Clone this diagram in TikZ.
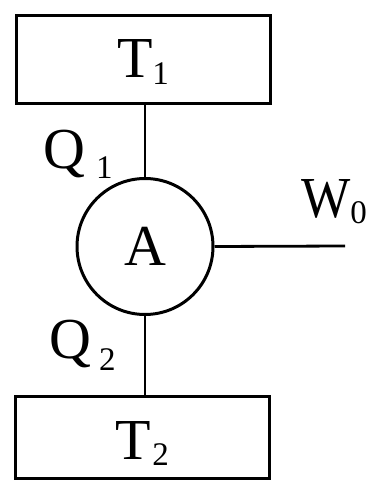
\documentclass[tikz,border=0pt]{standalone}
\usepackage{fontspec}
\setmainfont{Liberation Serif}
\usepackage{tikz}
\usetikzlibrary{positioning}
\newcommand{\bigfont}{\fontsize{58}{60}\selectfont}
\newcommand{\subfont}{\fontsize{33}{34}\selectfont}
\newcommand{\lowsub}[2][8pt]{\raisebox{-#1}{\subfont #2}}
\tikzset{
    reservoir/.style={rectangle, draw, line width=3pt, minimum width=254pt, minimum height=88pt, inner sep=0pt, font=\bigfont, text height=36pt, text depth=0pt},
    engine/.style={circle, draw, line width=3pt, minimum size=136pt, inner sep=0pt, font=\bigfont},
    link/.style={line width=2.8pt},
    lbl/.style={inner sep=0pt, font=\bigfont}
}
\begin{document}
\begin{tikzpicture}[x=1pt, y=-1pt]
\useasboundingbox (0,0) rectangle (366,481);

% Engine
\node[engine] (eng) at (145,246.5) {A};

% Hot and cold reservoirs
\node[reservoir, above=72pt of eng, xshift=-2pt] (t1) {T\lowsub[7pt]{1}};
\node[reservoir, below=79pt of eng, xshift=-3pt, minimum height=82pt, text height=43pt] (t2) {T\hspace{2pt}\lowsub[6pt]{2}};

\draw[link] (eng.north) -- (eng.north |- t1.south);
\draw[link] (eng.south) -- (eng.south |- t2.north);

% Work output
\coordinate (wend) at (345,246);
\draw[link] (eng.east) -- (wend);

% Labels
\node[lbl, anchor=base west] (q1) at (43,168) {Q\hspace{11pt}\lowsub[10pt]{1}};
\node[lbl, anchor=base west] (q2) at (49,358) {Q\hspace{8pt}\lowsub[12pt]{2}};
\node[lbl, anchor=base west] (w0) at (301,217) {\scalebox{0.9}[1]{W}\lowsub[6pt]{0}};

\end{tikzpicture}
\end{document}
